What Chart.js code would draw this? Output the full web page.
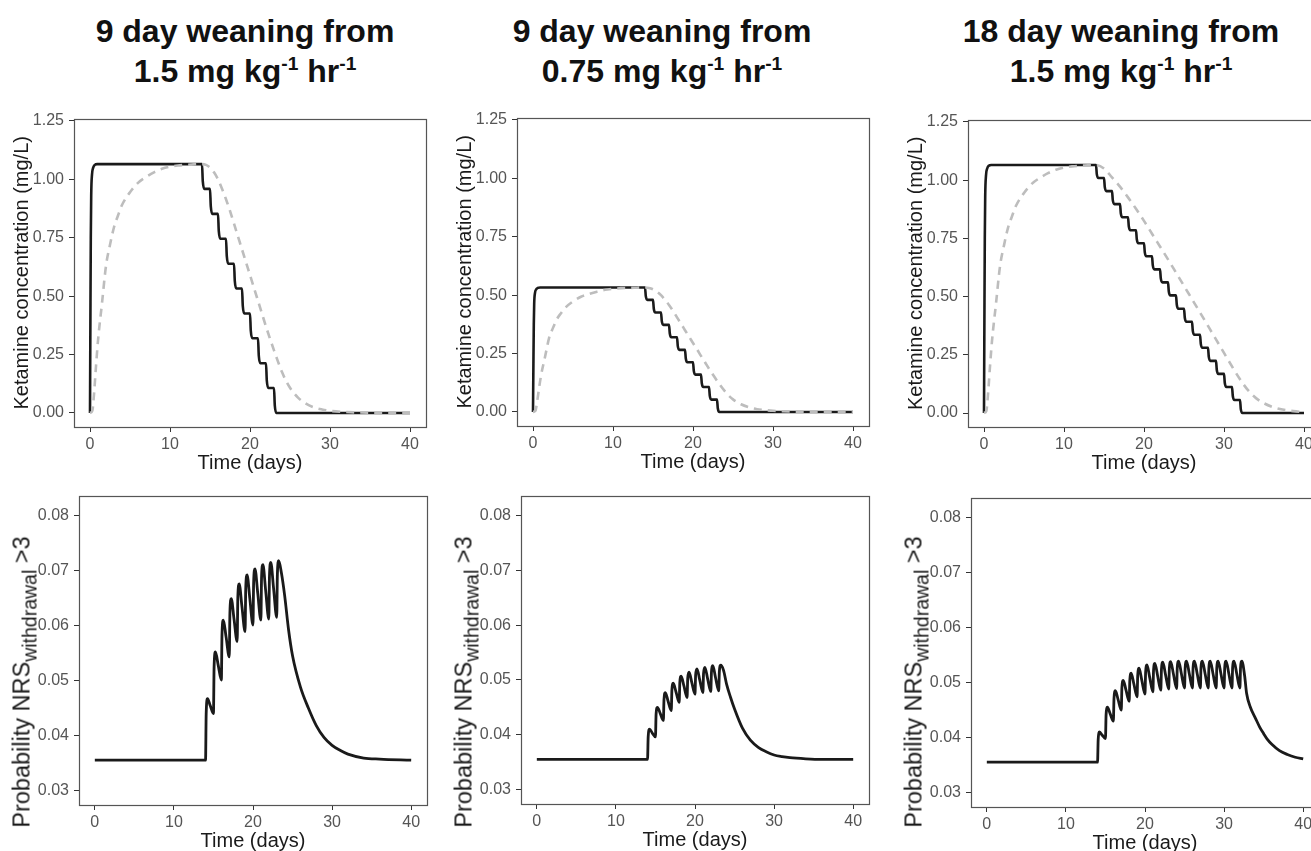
<!DOCTYPE html>
<html><head><meta charset="utf-8">
<script src="https://cdn.jsdelivr.net/npm/chart.js@4.4.1/dist/chart.umd.min.js"></script>
<style>
html,body{margin:0;padding:0;width:1311px;height:851px;overflow:hidden;background:#fff;font-family:"Liberation Sans",Arial,sans-serif;}
canvas{position:absolute;}
.title{position:absolute;width:440px;text-align:center;font-weight:bold;font-size:32px;line-height:40px;color:#111;white-space:nowrap;}
.sup{font-size:0.6em;position:relative;top:-0.6em;}
.ylab{position:absolute;white-space:nowrap;transform:translate(-50%,-50%) rotate(-90deg);font-size:23.5px;color:#1a1a1a;line-height:28px;}
.sub{font-size:19.5px;position:relative;top:0.35em;}
</style>
</head><body>
<div id="root"></div>
<script>
// ---------- text ----------
const titleLine1 = ['9 day weaning from', '9 day weaning from', '18 day weaning from'];
const titleDose = ['1.5', '0.75', '1.5'];
const xTitle = 'Time (days)';
const concTitle = 'Ketamine concentration (mg/L)';

// ---------- ticks ----------
const xTicks = [0, 10, 20, 30, 40];
const xTickLabels = ['0', '10', '20', '30', '40'];
const concTicks = [0, 0.25, 0.5, 0.75, 1, 1.25];
const concTickLabels = ['0.00', '0.25', '0.50', '0.75', '1.00', '1.25'];
const probTicks = [0.03, 0.04, 0.05, 0.06, 0.07, 0.08];
const probTickLabels = ['0.03', '0.04', '0.05', '0.06', '0.07', '0.08'];

// ---------- panel 1: 9 day weaning from 1.5 ----------
const conc1X = [0,0.05,0.1,0.15,0.25,0.4,0.6,0.9, 14,14.1,14.3, 15,15.1,15.3, 16,16.1,16.3, 17,17.1,17.3, 18,18.1,18.3, 19,19.1,19.3, 20,20.1,20.3, 21,21.1,21.3, 22,22.1,22.3, 23,23.1,23.3, 40];
const conc1Y = [0,0.40,0.75,0.93,1.02,1.05,1.062,1.065, 1.065,0.991,0.959, 0.959,0.884,0.852, 0.852,0.778,0.746, 0.746,0.671,0.639, 0.639,0.565,0.533, 0.533,0.458,0.426, 0.426,0.352,0.320, 0.320,0.245,0.213, 0.213,0.139,0.107, 0.107,0.032,0, 0];
const eff1X = [0,0.3,0.5,0.75,1,1.5,2,2.5,3,3.5,4,5,6,7,8,9,10,11,12,13,14, 14.5,15,15.5,16,16.5,17,17.5,18,18.5,19,19.5,20,20.5,21,21.5,22,22.5,23,23.5,24,24.5,25, 26,27,28,29,30,32,35,40];
const eff1Y = [0,0.01,0.08,0.2,0.31,0.47,0.63,0.72,0.795,0.845,0.89,0.945,0.985,1.01,1.03,1.045,1.054,1.059,1.062,1.064,1.065, 1.062,1.05,1.03,1.0,0.96,0.915,0.865,0.81,0.755,0.70,0.645,0.59,0.535,0.48,0.425,0.37,0.318,0.268,0.22,0.175,0.138,0.108, 0.066,0.04,0.024,0.015,0.009,0.004,0.001,0];
const prob1X = [0,14, 14.08,14.25,14.6,15, 15.08,15.25,15.6,16, 16.08,16.25,16.6,17, 17.08,17.25,17.6,18, 18.08,18.25,18.6,19, 19.08,19.25,19.6,20, 20.08,20.25,20.6,21, 21.08,21.25,21.6,22, 22.08,22.25,22.6,23, 23.08,23.25,23.6,24,24.5,25,26,27,28,29,30,31,32,34,36,40];
const prob1Y = [0.0355,0.0355, 0.0439,0.0467,0.0454,0.0440, 0.0524,0.0552,0.0528,0.0501, 0.0583,0.0610,0.0579,0.0543, 0.0623,0.0649,0.0612,0.0571, 0.0650,0.0676,0.0635,0.0589, 0.0666,0.0692,0.0649,0.0601, 0.0678,0.0703,0.0659,0.0610, 0.0686,0.0711,0.0664,0.0612, 0.0689,0.0715,0.0668,0.0615, 0.0692,0.0718,0.0695,0.0655,0.0592,0.0545,0.0488,0.0450,0.0418,0.0396,0.0382,0.0373,0.0366,0.0359,0.0357,0.0355];

// ---------- panel 2: 9 day weaning from 0.75 ----------
const conc2X = [0,0.05,0.1,0.15,0.25,0.4,0.6,0.9, 14,14.1,14.3, 15,15.1,15.3, 16,16.1,16.3, 17,17.1,17.3, 18,18.1,18.3, 19,19.1,19.3, 20,20.1,20.3, 21,21.1,21.3, 22,22.1,22.3, 23,23.1,23.3, 40];
const conc2Y = [0,0.20,0.375,0.465,0.51,0.525,0.531,0.533, 0.533,0.496,0.480, 0.480,0.442,0.426, 0.426,0.389,0.373, 0.373,0.336,0.320, 0.320,0.282,0.266, 0.266,0.229,0.213, 0.213,0.176,0.160, 0.160,0.123,0.107, 0.107,0.069,0.053, 0.053,0.016,0, 0];
const eff2X = [0,0.3,0.5,0.75,1,1.5,2,2.5,3,3.5,4,5,6,7,8,9,10,11,12,13,14, 14.5,15,15.5,16,16.5,17,17.5,18,18.5,19,19.5,20,20.5,21,21.5,22,22.5,23,23.5,24,24.5,25, 26,27,28,29,30,32,35,40];
const eff2Y = [0,0.005,0.04,0.1,0.155,0.235,0.315,0.36,0.398,0.423,0.445,0.473,0.493,0.505,0.515,0.523,0.527,0.53,0.531,0.532,0.533, 0.531,0.525,0.515,0.5,0.48,0.458,0.433,0.405,0.378,0.35,0.323,0.295,0.268,0.24,0.213,0.185,0.159,0.134,0.11,0.088,0.069,0.054, 0.033,0.02,0.012,0.008,0.005,0.002,0.001,0];
const prob2X = [0,14, 14.08,14.25,14.6,15, 15.08,15.25,15.6,16, 16.08,16.25,16.6,17, 17.08,17.25,17.6,18, 18.08,18.25,18.6,19, 19.08,19.25,19.6,20, 20.08,20.25,20.6,21, 21.08,21.25,21.6,22, 22.08,22.25,22.6,23, 23.08,23.25,23.6,24,24.5,25,26,27,28,29,30,31,32,34,36,40];
const prob2Y = [0.0355,0.0355, 0.0396,0.0410,0.0403,0.0396, 0.0437,0.0450,0.0439,0.0426, 0.0464,0.0477,0.0461,0.0444, 0.0482,0.0494,0.0478,0.0459, 0.0495,0.0507,0.0489,0.0468, 0.0503,0.0514,0.0495,0.0474, 0.0509,0.0520,0.0500,0.0477, 0.0512,0.0523,0.0502,0.0479, 0.0514,0.0526,0.0504,0.0480, 0.0515,0.0527,0.0518,0.0492,0.0468,0.0447,0.0412,0.0390,0.0377,0.0369,0.0363,0.0360,0.0358,0.0356,0.0355,0.0355];

// ---------- panel 3: 18 day weaning from 1.5 ----------
const conc3X = [0,0.05,0.1,0.15,0.25,0.4,0.6,0.9, 14,14.1,14.3, 15,15.1,15.3, 16,16.1,16.3, 17,17.1,17.3, 18,18.1,18.3, 19,19.1,19.3, 20,20.1,20.3, 21,21.1,21.3, 22,22.1,22.3, 23,23.1,23.3, 24,24.1,24.3, 25,25.1,25.3, 26,26.1,26.3, 27,27.1,27.3, 28,28.1,28.3, 29,29.1,29.3, 30,30.1,30.3, 31,31.1,31.3, 32,32.1,32.3, 40];
const conc3Y = [0,0.40,0.75,0.93,1.02,1.05,1.062,1.065, 1.065,1.026,1.009, 1.009,0.970,0.953, 0.953,0.914,0.897, 0.897,0.858,0.841, 0.841,0.802,0.785, 0.785,0.746,0.729, 0.729,0.690,0.673, 0.673,0.634,0.617, 0.617,0.578,0.561, 0.561,0.522,0.505, 0.505,0.465,0.448, 0.448,0.409,0.392, 0.392,0.353,0.336, 0.336,0.297,0.280, 0.280,0.241,0.224, 0.224,0.185,0.168, 0.168,0.129,0.112, 0.112,0.073,0.056, 0.056,0.017,0, 0];
const eff3X = [0,0.3,0.5,0.75,1,1.5,2,2.5,3,3.5,4,5,6,7,8,9,10,11,12,13,14, 15,16,17,18,19,20,21,22,23,24,25,26,27,28,29,30,31,32,33,34,35,36,37,38,39,40];
const eff3Y = [0,0.01,0.08,0.2,0.31,0.47,0.63,0.72,0.795,0.845,0.89,0.945,0.985,1.01,1.03,1.045,1.054,1.059,1.062,1.064,1.065, 1.05,1.012,0.972,0.926,0.877,0.825,0.77,0.715,0.66,0.603,0.546,0.489,0.432,0.374,0.316,0.258,0.2,0.145,0.098,0.064,0.042,0.027,0.017,0.011,0.007,0.004];
const prob3X = [0,14, 14.08,14.25,14.6,15, 15.08,15.25,15.6,16, 16.08,16.25,16.6,17, 17.08,17.25,17.6,18, 18.08,18.25,18.6,19, 19.08,19.25,19.6,20, 20.08,20.25,20.6,21, 21.08,21.25,21.6,22, 22.08,22.25,22.6,23, 23.08,23.25,23.6,24, 24.08,24.25,24.6,25, 25.08,25.25,25.6,26, 26.08,26.25,26.6,27, 27.08,27.25,27.6,28, 28.08,28.25,28.6,29, 29.08,29.25,29.6,30, 30.08,30.25,30.6,31, 31.08,31.25,31.6,32, 32.08,32.25,32.6,32.85,33.3,34,34.5,35,35.5,36,37,38,39,40];
const prob3Y = [0.0355,0.0355, 0.0396,0.0410,0.0404,0.0398, 0.0441,0.0455,0.0443,0.0430, 0.0471,0.0485,0.0469,0.0450, 0.0491,0.0504,0.0486,0.0466, 0.0504,0.0517,0.0497,0.0474, 0.0513,0.0526,0.0504,0.0479, 0.0519,0.0532,0.0509,0.0483, 0.0522,0.0535,0.0512,0.0486, 0.0524,0.0537,0.0514,0.0488, 0.0526,0.0538,0.0515,0.0489, 0.0527,0.0539,0.0516,0.0490, 0.0527,0.0539,0.0516,0.0490, 0.0527,0.0539,0.0516,0.0490, 0.0527,0.0539,0.0516,0.0490, 0.0527,0.0539,0.0516,0.0490, 0.0527,0.0539,0.0516,0.0490, 0.0527,0.0539,0.0516,0.0490, 0.0527,0.0539,0.0516,0.0490, 0.0527,0.0539,0.0512,0.0480,0.0456,0.0434,0.0419,0.0407,0.0396,0.0388,0.0376,0.0369,0.0364,0.0361];

// ---------- layout ----------
const FONT = '"Liberation Sans", Arial, Helvetica, sans-serif';
Chart.defaults.font.family = FONT;
const YW = 74, XH = 51, PT = 10, PR = 10;
const root = document.getElementById('root');

const pts = (xs, ys) => xs.map((x, i) => ({x: x, y: ys[i]}));
const boxPlugin = {
  id: 'panelBox',
  afterDatasetsDraw(chart) {
    const {ctx, chartArea: a} = chart;
    ctx.save();
    ctx.strokeStyle = '#555555';
    ctx.lineWidth = 1.2;
    ctx.strokeRect(Math.round(a.left) + 0.5, Math.round(a.top) + 0.5, Math.round(a.right - a.left), Math.round(a.bottom - a.top));
    ctx.restore();
  }
};

function makePanel(box, datasets, yMin, yMax, yTicks, yLabels, yTitle) {
  const c = document.createElement('canvas');
  const w = (box.r - box.l) + YW + PR, h = (box.b - box.t) + PT + XH;
  c.width = w; c.height = h;
  c.style.left = (box.l - YW) + 'px'; c.style.top = (box.t - PT) + 'px';
  c.style.width = w + 'px'; c.style.height = h + 'px';
  root.appendChild(c);
  new Chart(c, {
    type: 'line',
    data: {datasets: datasets},
    plugins: [boxPlugin],
    options: {
      responsive: false, animation: false, devicePixelRatio: 1,
      layout: {padding: {top: PT, right: PR, left: 0, bottom: 0}},
      plugins: {legend: {display: false}, tooltip: {enabled: false}},
      elements: {point: {radius: 0}, line: {cubicInterpolationMode: 'monotone'}},
      scales: {
        x: {
          type: 'linear', min: -2, max: 42,
          afterBuildTicks: s => { s.ticks = xTicks.map(v => ({value: v})); },
          afterFit: s => { s.height = XH; },
          grid: {drawOnChartArea: false, drawTicks: true, tickLength: 5, tickColor: '#333333', tickWidth: 1},
          border: {display: false},
          ticks: {padding: 3, color: '#555555', font: {size: 16}, autoSkip: false, maxRotation: 0,
                  callback: (v, i) => xTickLabels[i]},
          title: {display: true, text: xTitle, color: '#1a1a1a', font: {size: 20}, padding: {top: 0, bottom: 3}}
        },
        y: {
          type: 'linear', min: yMin, max: yMax,
          afterBuildTicks: s => { s.ticks = yTicks.map(v => ({value: v})); },
          afterFit: s => { s.width = YW; },
          grid: {drawOnChartArea: false, drawTicks: true, tickLength: 5, tickColor: '#333333', tickWidth: 1},
          border: {display: false},
          ticks: {padding: 5, color: '#555555', font: {size: 16}, autoSkip: false,
                  callback: (v, i) => yLabels[i]},
          title: yTitle ? {display: true, text: yTitle, color: '#1a1a1a', font: {size: 20}, padding: {top: 10, bottom: 0}} : {display: false}
        }
      }
    }
  });
}

function concSets(cx, cy, ex, ey) {
  return [
    {data: pts(ex, ey), borderColor: '#bdbdbd', borderWidth: 2.6, borderDash: [8, 6], fill: false},
    {data: pts(cx, cy), borderColor: '#1a1a1a', borderWidth: 2.6, fill: false}
  ];
}
function probSets(px, py) {
  return [{data: pts(px, py), borderColor: '#1a1a1a', borderWidth: 2.8, fill: false}];
}

const topBoxes = [{l:74,r:426,t:114,b:427},{l:517,r:869,t:113,b:426},{l:968,r:1320,t:115,b:427}];
const botBoxes = [{l:79,r:427,t:491,b:805},{l:521,r:869,t:491,b:804},{l:971,r:1319,t:493,b:807}];
const concData = [[conc1X,conc1Y,eff1X,eff1Y],[conc2X,conc2Y,eff2X,eff2Y],[conc3X,conc3Y,eff3X,eff3Y]];
const probData = [[prob1X,prob1Y],[prob2X,prob2Y],[prob3X,prob3Y]];
const titleCenters = [245, 662, 1121];

for (let i = 0; i < 3; i++) {
  const t = document.createElement('div');
  t.className = 'title';
  t.style.left = (titleCenters[i] - 220) + 'px';
  t.style.top = '11px';
  t.innerHTML = titleLine1[i] + '<br>' + titleDose[i] + ' mg kg<span class="sup">-1</span> hr<span class="sup">-1</span>';
  root.appendChild(t);

  const d = concData[i];
  makePanel(topBoxes[i], concSets(d[0], d[1], d[2], d[3]), -0.06, 1.26, concTicks, concTickLabels, concTitle);
  makePanel(botBoxes[i], probSets(probData[i][0], probData[i][1]), 0.02735, 0.08365, probTicks, probTickLabels, null);

  const yl = document.createElement('div');
  yl.className = 'ylab';
  yl.style.left = (botBoxes[i].l - 57) + 'px';
  yl.style.top = '682px';
  yl.innerHTML = 'Probability NRS<span class="sub">withdrawal</span> &gt;3';
  root.appendChild(yl);
}
</script>
</body></html>
